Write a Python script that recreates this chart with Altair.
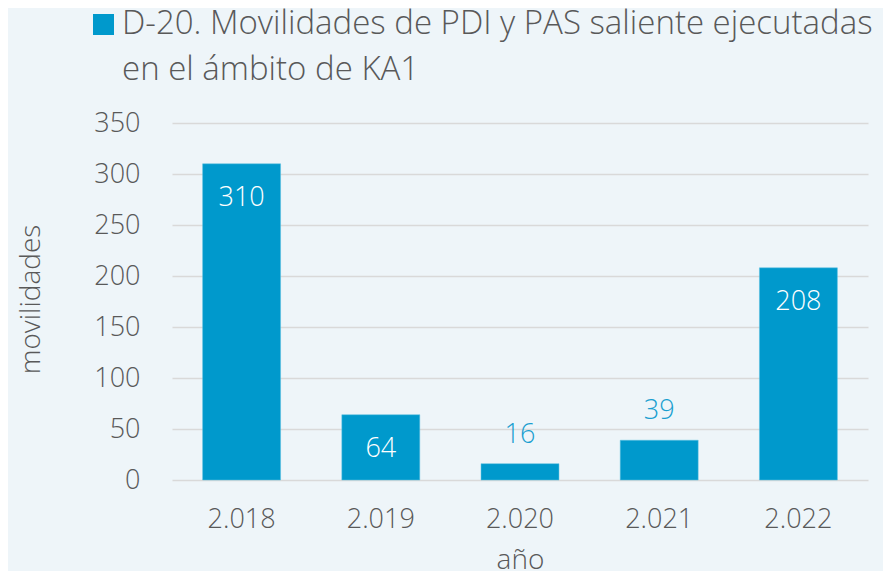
import altair as alt
import pandas as pd

years = ["2.018", "2.019", "2.020", "2.021", "2.022"]
values = [310, 64, 16, 39, 208]
series = "D-20. Movilidades de PDI y PAS saliente ejecutadas en el ámbito de KA1"
title_lines = ["D-20. Movilidades de PDI y PAS saliente ejecutadas", "en el ámbito de KA1"]

df = pd.DataFrame({"año": years, "movilidades": values, "serie": [series] * len(years)})
df["inside"] = df["movilidades"] > 50

FONT = "Open Sans"
GRAY = "#595959"
BLUE = "#0099cc"

x = alt.X("año:N", sort=years, title="año",
          scale=alt.Scale(paddingInner=0.44, paddingOuter=0.22),
          axis=alt.Axis(labelAngle=0, labelPadding=26, titleY=80, titleBaseline="middle"))
y = alt.Y("movilidades:Q", title="movilidades",
          scale=alt.Scale(domain=[0, 350]),
          axis=alt.Axis(values=[0, 50, 100, 150, 200, 250, 300, 350], labelPadding=32,
                        titleX=-141, titleY=176, titleAngle=-90,
                        titleAlign="center", titleBaseline="middle"))

bars = alt.Chart(df).mark_bar(stroke="#5cc0e0", strokeWidth=0.5).encode(
    x=x, y=y,
    color=alt.Color("serie:N", scale=alt.Scale(range=[BLUE]),
                    legend=alt.Legend(title=None, orient="none", legendX=-79, legendY=-109,
                                      symbolType="square", symbolSize=441, symbolStrokeWidth=0,
                                      labelExpr="''", labelFontSize=1))
)

inside = alt.Chart(df).transform_filter("datum.inside").mark_text(
    baseline="middle", dy=34, fontSize=27, color="white", font=FONT, fontWeight=300
).encode(x=alt.X("año:N", sort=years), y="movilidades:Q", text="movilidades:Q")

above = alt.Chart(df).transform_filter("!datum.inside").mark_text(
    baseline="middle", dy=-29, fontSize=27, color="#1a9fd0", font=FONT, fontWeight=300
).encode(x=alt.X("año:N", sort=years), y="movilidades:Q", text="movilidades:Q")

chart = alt.layer(bars, inside, above).properties(
    width=696, height=357,
    autosize=alt.AutoSizeParams(type="none"),
    padding={"left": 164, "top": 115, "right": 15, "bottom": 91},
    background="#eef5f9",
    title=alt.TitleParams(text=title_lines, orient="none", anchor="start", frame="group",
                          baseline="alphabetic", dx=-50, dy=-89,
                          font=FONT, fontSize=33, fontWeight=300, color=GRAY,
                          lineHeight=46),
).configure_view(stroke=None).configure_axis(
    labelFont=FONT, titleFont=FONT, labelFontSize=27, titleFontSize=28,
    labelColor=GRAY, titleColor=GRAY, labelFontWeight=300, titleFontWeight=300,
    domain=False, ticks=False, grid=False,
).configure_axisY(grid=True, gridColor="#d9d9d9", gridWidth=1.5)

chart.save("out.html", embed_options={"renderer": "svg", "actions": False})
